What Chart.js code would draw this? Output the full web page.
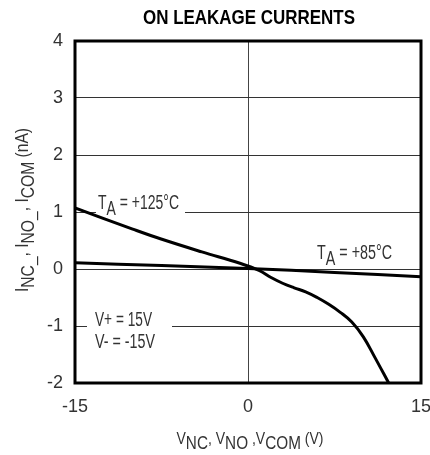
<!DOCTYPE html>
<html><head><meta charset="utf-8">
<script src="https://cdn.jsdelivr.net/npm/chart.js@4"></script>
<style>html,body{margin:0;padding:0;background:#fff}#wrap{width:430px;height:455px}</style>
</head><body><div id="wrap"><canvas id="c"></canvas></div>
<script>
// ---- data ----
const chartTitle = 'ON LEAKAGE CURRENTS';
const xTickValues = [-15, 0, 15];
const yTickValues = [-2, -1, 0, 1, 2, 3, 4];
const v125 = [-15, -10, -7.6, -4, -0.7, 1, 2, 3, 4, 5, 6, 7, 8, 9, 10, 11, 12.2];
const i125 = [1.07, 0.70, 0.53, 0.30, 0.10, -0.03, -0.15, -0.25, -0.33, -0.40, -0.50, -0.62, -0.76, -0.93, -1.19, -1.55, -2.0];
const v85 = [-15, -7.5, 0, 7.5, 15];
const i85 = [0.11, 0.06, 0.01, -0.06, -0.135];

const FAM = '"Liberation Sans", Arial, sans-serif';

// draws text parts (with optional subscripts) condensed to a target width
function drawRich(ctx, parts, x, y, align, o) {
  const f = (p) => (o.weight ? o.weight + ' ' : '') + (p.sub ? o.subSize : o.size) + 'px ' + FAM;
  let w = 0;
  parts.forEach(p => { ctx.font = f(p); p.w = ctx.measureText(p.t).width; w += p.w; });
  const sx = o.target ? o.target / w : 1;
  ctx.save();
  const x0 = align === 'center' ? x - w * sx / 2 : x;
  ctx.translate(x0, y);
  ctx.scale(sx, 1);
  ctx.fillStyle = o.color || '#333';
  ctx.textBaseline = 'alphabetic';
  ctx.textAlign = 'left';
  let cx = 0;
  parts.forEach(p => {
    ctx.font = f(p);
    ctx.fillText(p.t, cx, p.sub ? o.subDy : 0);
    cx += p.w;
  });
  ctx.restore();
}

const lbl = {size: 19.5, subSize: 19.5, subDy: 6, color: '#333'};

const textPlugin = {
  id: 'texts',
  beforeDatasetsDraw(chart) {
    const ctx = chart.ctx;
    const ys = chart.scales.y;
    ctx.save();
    ctx.fillStyle = '#fff';
    ctx.fillRect(96, ys.getPixelForValue(1) - 3, 89, 6);
    ctx.fillRect(87, ys.getPixelForValue(-1) - 3, 85, 6);
    drawRich(ctx, [{t: 'T'}, {t: 'A', sub: true}, {t: ' = +125°C'}], 98, 209, 'left', {...lbl, target: 81});
    drawRich(ctx, [{t: 'T'}, {t: 'A', sub: true}, {t: ' = +85°C'}], 317, 259, 'left', {...lbl, target: 75});
    drawRich(ctx, [{t: 'V+ = 15V'}], 95, 326, 'left', {...lbl, target: 57});
    drawRich(ctx, [{t: 'V- = -15V'}], 95, 348, 'left', {...lbl, target: 60});
    ctx.restore();
  },
  afterDatasetsDraw(chart) {
    const ctx = chart.ctx, a = chart.chartArea;
    ctx.save();
    ctx.strokeStyle = '#000';
    ctx.lineWidth = 3;
    ctx.strokeRect(a.left, a.top, a.right - a.left, a.bottom - a.top);
    drawRich(ctx, [{t: chartTitle}], 249, 24, 'center', {size: 19.5, subSize: 19.5, subDy: 0, color: '#000', weight: 'bold', target: 212});
    drawRich(ctx, [{t: 'V'}, {t: 'NC', sub: true}, {t: ', V'}, {t: 'NO', sub: true}, {t: ' ,V'}, {t: 'COM', sub: true}, {t: ' (V)'}], 250, 444, 'center', {size: 16.5, subSize: 18, subDy: 5, color: '#333', target: 147});
    ctx.translate(28, 210);
    ctx.rotate(-Math.PI / 2);
    drawRich(ctx, [{t: 'I'}, {t: 'NC_', sub: true}, {t: ', I'}, {t: 'NO_', sub: true}, {t: ', I'}, {t: 'COM', sub: true}, {t: ' (nA)'}], 0, 0, 'center', {size: 18, subSize: 18, subDy: 6, color: '#333', target: 164});
    ctx.restore();
  }
};

const toPts = (xs, ys) => xs.map((x, i) => ({x, y: ys[i]}));

new Chart(document.getElementById('c'), {
  type: 'line',
  data: {
    datasets: [
      {label: 'TA = +125°C', data: toPts(v125, i125), borderColor: '#000', borderWidth: 3, pointRadius: 0, tension: 0.4, fill: false},
      {label: 'TA = +85°C', data: toPts(v85, i85), borderColor: '#000', borderWidth: 3, pointRadius: 0, tension: 0.3, fill: false}
    ]
  },
  options: {
    responsive: true, maintainAspectRatio: false, animation: false, devicePixelRatio: 1,
    layout: {padding: {top: 41, right: 9, left: 0, bottom: 0}},
    plugins: {legend: {display: false}, tooltip: {enabled: false}, title: {display: false}},
    scales: {
      x: {
        type: 'linear', min: -15, max: 15,
        afterBuildTicks: s => { s.ticks = xTickValues.map(v => ({value: v})); },
        afterFit: s => { s.height = 72; s.paddingLeft = 0; s.paddingRight = 0; },
        grid: {color: c => (c.tick && c.tick.value === 0) ? '#444' : 'rgba(0,0,0,0)', lineWidth: 1, drawTicks: false},
        border: {display: false},
        ticks: {color: '#333', font: {family: FAM, size: 18}, padding: 13, maxRotation: 0, autoSkip: false}
      },
      y: {
        type: 'linear', min: -2, max: 4,
        afterBuildTicks: s => { s.ticks = yTickValues.map(v => ({value: v})); },
        afterFit: s => { s.width = 75; s.paddingTop = 0; s.paddingBottom = 0; },
        grid: {color: c => (c.tick && (c.tick.value === -2 || c.tick.value === 4)) ? 'rgba(0,0,0,0)' : '#333', lineWidth: 1, drawTicks: false},
        border: {display: false},
        ticks: {color: '#333', font: {family: FAM, size: 18}, padding: 12, autoSkip: false}
      }
    }
  },
  plugins: [textPlugin]
});
</script>
</body></html>
